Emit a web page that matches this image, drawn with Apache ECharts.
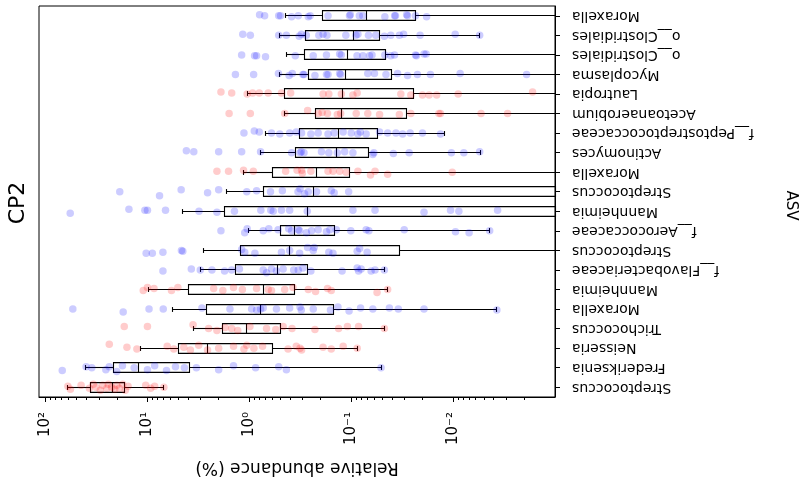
<!DOCTYPE html>
<html>
<head>
<meta charset="utf-8">
<script src="https://cdn.jsdelivr.net/npm/echarts/dist/echarts.min.js"></script>
<style>
html,body{margin:0;padding:0;background:#fff;}
#chart{width:806px;height:498px;}
</style>
</head>
<body>
<div id="chart"></div>
<script>
// ---- categories (bottom -> top) ----
const asvLabels = ['Streptococcus','Frederiksenia','Neisseria','Trichococcus','Moraxella','Mannheimia',
  'f__Flavobacteriaceae','Streptococcus','f__Aerococcaceae','Mannheimia','Streptococcus','Moraxella',
  'Actinomyces','f__Peptostreptococcaceae','Acetoanaerobium','Lautropia','Mycoplasma',
  'o__Clostridiales','o__Clostridiales','Moraxella'];
const rowGroup = ['r','b','r','r','b','r','b','b','b','b','b','r','b','b','r','r','b','b','b','b'];

// ---- box statistics (relative abundance %, 0 = zero abundance) ----
const whiskerHigh = [60.4, 40.9, 11.8, 3.51, 5.72, 9.80, 3.03, 2.81, 1.01, 4.50, 1.66, 1.14, 0.776, 0.689, 0.450, 1.05, 0.510, 0.433, 0.510, 0.443];
const q3 = [36.6, 21.6, 4.92, 1.83, 2.65, 3.93, 1.36, 1.23, 0.495, 1.77, 0.731, 0.593, 0.354, 0.321, 0.224, 0.450, 0.260, 0.285, 0.278, 0.193];
const median = [22.0, 12.3, 2.57, 1.06, 0.776, 0.731, 0.534, 0.402, 0.359, 0.270, 0.236, 0.219, 0.138, 0.132, 0.125, 0.123, 0.114, 0.108, 0.0956, 0.0703];
const q1 = [16.9, 3.88, 0.597, 0.492, 0.148, 0.359, 0.270, 0.0333, 0.147, 0, 0, 0.105, 0.0677, 0.0558, 0.0285, 0.0246, 0.0399, 0.0466, 0.0527, 0.0234];
const whiskerLow = [6.89, 0.051, 0.0874, 0.0473, 0.00372, 0.0439, 0.0473, 0, 0.00438, 0, 0, 0, 0.00541, 0.0121, 0, 0, 0, 0, 0.00549, 0];

// ---- individual samples per row: [value, vertical jitter] ----
const pts01 = [[60.4,0.05],[57,-0.1],[44.8,0.1],[37.1,-0.05],[34,0.15],[32,0.0],[29,-0.15],[27.5,0.1],[25,-0.05],[24.2,0.15],[22.5,0.0],[21,-0.1],[20,0.1],[18.9,-0.05],[17.5,0.15],[16.5,-0.15],[15.5,0.05],[10.4,0.1],[9.3,-0.05],[8.5,0.05],[6.9,0.0]];
const pts02 = [[68.6,-0.15],[40.0,0.05],[35.2,0.0],[25.6,-0.1],[23.7,0.05],[20.0,-0.2],[17.6,0.1],[13.5,0.0],[10.0,-0.1],[8.5,0.1],[6.5,-0.15],[5.31,0.05],[4.34,0.0],[3.31,0.0],[2.0,-0.1],[1.43,0.1],[0.868,0.0],[0.515,0.05],[0.433,-0.1],[0.051,0.0]];
const pts03 = [[23.7,0.2],[15.9,0.05],[12.7,-0.05],[6.40,0.1],[5.51,-0.05],[4.40,0.05],[3.79,-0.1],[3.14,0.15],[2.57,-0.1],[2.00,0.0],[1.43,0.1],[1.13,-0.05],[1.06,0.15],[0.902,0.0],[0.742,0.1],[0.417,-0.05],[0.346,0.1],[0.318,0.0],[0.307,-0.1],[0.189,0.05],[0.157,-0.05],[0.120,0.1],[0.0874,0.0]];
const pts04 = [[16.9,0.1],[10.0,0.1],[3.57,0.2],[2.51,0.0],[2.08,-0.1],[1.73,0.05],[1.49,0.0],[1.3,-0.1],[0.987,0.1],[0.678,0.0],[0.550,-0.05],[0.466,0.1],[0.381,0.0],[0.227,-0.05],[0.133,0.0],[0.109,0.1],[0.0847,0.1],[0.0473,0.0]];
const pts05 = [[54.0,0.0],[17.3,-0.15],[9.65,0.0],[7.0,0.0],[2.92,0.05],[1.55,0.0],[0.950,0.0],[0.849,-0.05],[0.776,0.0],[0.731,0.05],[0.542,0.0],[0.402,0.05],[0.318,0.1],[0.309,-0.05],[0.236,0.0],[0.160,-0.05],[0.135,0.1],[0.105,-0.1],[0.081,0.05],[0.0614,0.0],[0.0422,0.05],[0.0345,0.0],[0.0193,0.0],[0.00372,-0.05]];
const pts06 = [[11.0,-0.05],[10.0,0.1],[8.62,0.05],[5.81,-0.05],[5.03,0.1],[2.24,0.05],[1.82,-0.05],[1.43,0.1],[1.17,0.0],[0.849,0.05],[0.653,0.0],[0.606,-0.05],[0.450,0.0],[0.373,0.1],[0.264,0.0],[0.224,-0.1],[0.171,0.05],[0.157,-0.05],[0.0558,-0.15],[0.0439,0.0]];
const pts07 = [[7.05,-0.05],[3.71,0.05],[3.03,0.0],[2.33,0.0],[1.75,-0.05],[1.49,0.0],[1.25,0.05],[0.731,0.0],[0.678,-0.15],[0.606,0.05],[0.542,-0.05],[0.466,0.05],[0.367,0.0],[0.331,0.0],[0.298,0.1],[0.249,-0.05],[0.123,-0.05],[0.0874,0.1],[0.0847,-0.05],[0.0799,0.05],[0.0638,-0.05],[0.0584,0.0],[0.0473,0.0]];
const pts08 = [[10.3,-0.15],[8.96,-0.15],[7.05,-0.1],[4.64,0.0],[4.50,-0.05],[1.19,0.05],[1.11,-0.1],[0.882,-0.15],[0.484,-0.1],[0.402,0.0],[0.321,-0.15],[0.268,0.15],[0.236,0.0],[0.231,0.15],[0.166,-0.1],[0.151,-0.15],[0.0874,-0.05],[0.0827,0.1],[0.0698,-0.1]];
const pts09 = [[1.90,0.0],[1.11,-0.1],[1.05,0.1],[0.731,0.0],[0.644,0.1],[0.522,0.05],[0.411,0.1],[0.385,0.0],[0.331,0.05],[0.321,0.0],[0.275,-0.1],[0.245,0.0],[0.211,0.05],[0.175,-0.05],[0.162,0.05],[0.140,0.05],[0.101,0.0],[0.0714,0.05],[0.0671,0.0],[0.0302,0.05],[0.00948,-0.05],[0.00697,-0.1],[0.00438,0.0]];
const pts10 = [[57.3,-0.1],[15.2,0.1],[10.6,0.05],[10.0,0.05],[6.65,0.05],[3.12,0.0],[2.08,-0.05],[1.40,0.0],[0.771,0.05],[0.616,0.05],[0.583,0.0],[0.484,0.05],[0.402,0.05],[0.270,0.0],[0.0963,0.05],[0.0584,0.05],[0.0193,-0.05],[0.0106,0.05],[0.00878,0.0],[0.00366,0.05]];
const pts11 = [[18.7,0.0],[7.61,-0.2],[4.67,0.1],[2.57,-0.05],[2.00,0.1],[1.06,0.0],[0.849,0.05],[0.620,0.0],[0.474,0.05],[0.333,0.0],[0.318,0.15],[0.287,-0.1],[0.264,0.0],[0.219,0.0],[0.157,0.05],[0.147,-0.05],[0.106,0.0]];
const pts12 = [[2.08,0.05],[1.60,0.05],[1.14,0.1],[0.914,0.05],[0.440,0.05],[0.340,0.1],[0.307,0.1],[0.302,-0.05],[0.249,0.05],[0.169,0.05],[0.151,0.05],[0.130,0.05],[0.112,0.0],[0.086,0.05],[0.0647,-0.15],[0.0584,0.05],[0.0439,-0.1],[0.0102,0.0]];
const pts13 = [[4.15,0.1],[3.51,0.05],[2.00,0.05],[1.19,0.05],[0.776,0.05],[0.385,0.0],[0.318,0.0],[0.309,0.05],[0.291,0.0],[0.196,0.05],[0.166,0.0],[0.137,0.0],[0.116,0.05],[0.0963,0.0],[0.0614,-0.1],[0.060,0.0],[0.0386,-0.05],[0.0270,0.0],[0.0104,0.0],[0.00785,0.0],[0.00549,0.05]];
const pts14 = [[1.13,0.0],[0.894,0.1],[0.799,0.05],[0.606,0.0],[0.503,-0.05],[0.402,0.0],[0.346,0.05],[0.307,0.0],[0.249,-0.05],[0.211,0.0],[0.169,-0.05],[0.147,0.0],[0.120,0.05],[0.100,0.0],[0.086,-0.05],[0.0814,0.05],[0.0714,-0.05],[0.0527,0.05],[0.0439,0.0],[0.0364,0.0],[0.0313,-0.05],[0.0264,0.0],[0.020,0.0],[0.0133,-0.05]];
const pts15 = [[1.58,0.0],[0.978,0.0],[0.450,0.0],[0.268,0.15],[0.211,0.0],[0.193,0.05],[0.171,0.0],[0.137,-0.05],[0.127,0.0],[0.0894,0.0],[0.0688,0.0],[0.0527,-0.05],[0.0337,-0.05],[0.026,0.0],[0.0138,0.0],[0.0133,0.0],[0.00532,0.0],[0.00292,0.0]];
const pts16 = [[1.90,0.1],[1.49,0.05],[1.05,0.0],[0.929,0.05],[0.799,0.05],[0.653,0.05],[0.484,0.05],[0.393,0.05],[0.189,0.0],[0.166,0.0],[0.125,0.0],[0.0963,-0.05],[0.0874,0.05],[0.0326,0.0],[0.026,-0.05],[0.020,-0.05],[0.0172,-0.05],[0.0145,-0.05],[0.00892,0.0],[0.00166,0.1]];
const pts17 = [[1.37,0.0],[0.908,0.0],[0.518,0.05],[0.407,-0.05],[0.379,0.05],[0.298,0.0],[0.291,0.0],[0.227,-0.05],[0.175,0.0],[0.169,0.0],[0.130,0.05],[0.127,0.0],[0.0688,0.05],[0.0592,0.05],[0.0456,0.0],[0.0351,0.05],[0.0280,-0.05],[0.0224,0.0],[0.0167,0.0],[0.00853,0.05],[0.0019,0.0]];
const pts18 = [[1.19,0.0],[0.888,-0.05],[0.849,-0.05],[0.694,-0.1],[0.354,-0.05],[0.236,-0.05],[0.175,0.0],[0.130,0.05],[0.125,0.0],[0.0877,-0.05],[0.0769,-0.05],[0.0662,-0.05],[0.0625,0.0],[0.0468,0.0],[0.0409,-0.05],[0.0376,0.0],[0.0234,0.0],[0.0229,-0.05],[0.0193,0.05],[0.0184,0.05]];
const pts19 = [[1.16,0.05],[0.978,0.0],[0.515,0.0],[0.433,0.0],[0.324,-0.05],[0.309,0.05],[0.276,0.0],[0.208,0.0],[0.189,0.05],[0.173,0.0],[0.113,0.0],[0.0898,0.0],[0.086,0.05],[0.0677,0.0],[0.0574,0.0],[0.0473,-0.05],[0.0409,0.0],[0.0337,0.0],[0.0306,0.05],[0.0211,0.0],[0.00954,0.05],[0.00549,0.0]];
const pts20 = [[0.793,0.05],[0.708,0.0],[0.515,0.0],[0.494,0.0],[0.385,-0.05],[0.331,0.0],[0.264,-0.05],[0.253,0.0],[0.169,0.0],[0.104,0.0],[0.102,0.05],[0.0833,0.0],[0.0769,0.0],[0.0468,-0.05],[0.0375,0.0],[0.0368,0.0],[0.0286,0.05],[0.0280,0.0],[0.0234,0.0],[0.0182,-0.05]];
const rowPoints = [pts01,pts02,pts03,pts04,pts05,pts06,pts07,pts08,pts09,pts10,pts11,pts12,pts13,pts14,pts15,pts16,pts17,pts18,pts19,pts20];

// ---- axis ticks ----
const xTickValues = [100, 10, 1, 0.1, 0.01];
const xTickLabels = ['10²', '10¹', '10⁰', '10⁻¹', '10⁻²'];
const xMinorTicks = [0.002,0.003,0.004,0.005,0.006,0.007,0.008,0.009,
  0.02,0.03,0.04,0.05,0.06,0.07,0.08,0.09,
  0.2,0.3,0.4,0.5,0.6,0.7,0.8,0.9,
  2,3,4,5,6,7,8,9,
  20,30,40,50,60,70,80,90];
const xMin = 0.001, xMax = 116;

const FONT = 'DejaVu Sans';

// build series data from arrays
const boxData = asvLabels.map((_, i) => [i + 1, whiskerLow[i], q1[i], median[i], q3[i], whiskerHigh[i]]);
const redPts = [], bluePts = [];
rowPoints.forEach((arr, i) => {
  arr.forEach(p => {
    (rowGroup[i] === 'r' ? redPts : bluePts).push([p[0], i + 1 + p[1]]);
  });
});

function crisp(v) { return Math.round(v - 0.5) + 0.5; }

function renderBox(params, api) {
  const pos = api.value(0);
  const lo = api.value(1), qa = api.value(2), md = api.value(3), qb = api.value(4), hi = api.value(5);
  const cs = params.coordSys;
  const left = cs.x, right = cs.x + cs.width;
  const yc = crisp(api.coord([1, pos])[1]);
  const unit = api.size([0, 1], [1, pos])[1];
  const hb = unit * 0.25, hc = unit * 0.125;
  const X = v => v > 0 ? Math.max(left, Math.min(right, api.coord([v, pos])[0])) : right;
  const inRange = v => { if (!(v > 0)) return false; const x = api.coord([v, pos])[0]; return x >= left && x <= right; };
  const st = { stroke: '#000', lineWidth: 1.1, fill: null };
  const xs = { lo: crisp(X(lo)), qa: crisp(X(qa)), md: crisp(X(md)), qb: crisp(X(qb)), hi: crisp(X(hi)) };
  const ch = [];
  ch.push({ type: 'line', shape: { x1: xs.hi, y1: yc, x2: xs.qb, y2: yc }, style: st });
  ch.push({ type: 'line', shape: { x1: xs.qa, y1: yc, x2: xs.lo, y2: yc }, style: st });
  ch.push({ type: 'rect', shape: { x: xs.qb, y: yc - hb, width: xs.qa - xs.qb, height: 2 * hb }, style: st });
  ch.push({ type: 'line', shape: { x1: xs.md, y1: yc - hb, x2: xs.md, y2: yc + hb }, style: st });
  if (inRange(hi)) ch.push({ type: 'line', shape: { x1: xs.hi, y1: yc - hc, x2: xs.hi, y2: yc + hc }, style: st });
  if (inRange(lo)) ch.push({ type: 'line', shape: { x1: xs.lo, y1: yc - hc, x2: xs.lo, y2: yc + hc }, style: st });
  return { type: 'group', children: ch };
}

const chart = echarts.init(document.getElementById('chart'), null, { renderer: 'canvas' });
chart.setOption({
  animation: false,
  backgroundColor: '#fff',
  textStyle: { fontFamily: FONT, color: '#000' },
  grid: { left: 39, right: 247, top: 6, bottom: 101, show: true, borderColor: '#000', borderWidth: 1, backgroundColor: 'transparent' },
  graphic: [{
    type: 'text', x: 18, y: 203,
    rotation: Math.PI / 2,
    style: { text: 'CP2', font: '22px "DejaVu Sans"', fill: '#000', textAlign: 'center', textVerticalAlign: 'middle' }
  }],
  xAxis: [{
    type: 'log', logBase: 10, min: xMin, max: xMax, inverse: true, position: 'bottom',
    axisLine: { show: true, lineStyle: { color: '#000', width: 1 } },
    axisTick: { show: true, customValues: xTickValues, length: 5, lineStyle: { color: '#000', width: 1 } },
    axisLabel: {
      show: true, customValues: xTickValues, rotate: 90, fontSize: 15, color: '#000', fontFamily: FONT, margin: 15,
      formatter: v => { const i = xTickValues.findIndex(t => Math.abs(Math.log10(t) - Math.log10(v)) < 1e-6); return i >= 0 ? xTickLabels[i] : ''; }
    },
    splitLine: { show: false },
    minorTick: { show: false },
    name: 'Relative abundance (%)', nameLocation: 'middle', nameGap: 62, nameRotate: 180,
    nameTextStyle: { fontSize: 17, color: '#000', fontFamily: FONT }
  }, {
    type: 'log', logBase: 10, min: xMin, max: xMax, inverse: true, position: 'bottom', gridIndex: 0,
    axisLine: { show: false },
    axisTick: { show: true, customValues: xMinorTicks, length: 3, lineStyle: { color: '#000', width: 1 } },
    axisLabel: { show: false },
    splitLine: { show: false }
  }],
  yAxis: [{
    type: 'category', data: asvLabels, position: 'right', boundaryGap: true,
    axisLine: { show: true, lineStyle: { color: '#000', width: 1 } },
    axisTick: { show: true, alignWithLabel: true, length: 5, lineStyle: { color: '#000' } },
    axisLabel: { rotate: 180, fontSize: 14, color: '#000', fontFamily: FONT, margin: 17, interval: 0 },
    splitLine: { show: false },
    name: 'ASV', nameLocation: 'middle', nameRotate: -90, nameGap: 228,
    nameTextStyle: { fontSize: 15, color: '#000', fontFamily: FONT, padding: [0, 0, 0, 8] }
  }, {
    type: 'value', min: 0.5, max: 20.5, show: false, position: 'left'
  }],
  series: [{
    type: 'custom', name: 'box', xAxisIndex: 0, yAxisIndex: 1, silent: true, z: 2,
    renderItem: renderBox, encode: { x: [1, 2, 3, 4, 5], y: 0 },
    data: boxData
  }, {
    type: 'scatter', name: 'red', xAxisIndex: 0, yAxisIndex: 1, silent: true, z: 3,
    symbolSize: 7.5, itemStyle: { color: '#ff0000', opacity: 0.2 }, data: redPts
  }, {
    type: 'scatter', name: 'blue', xAxisIndex: 0, yAxisIndex: 1, silent: true, z: 3,
    symbolSize: 7.5, itemStyle: { color: '#0000ff', opacity: 0.2 }, data: bluePts
  }]
});
</script>
</body>
</html>
